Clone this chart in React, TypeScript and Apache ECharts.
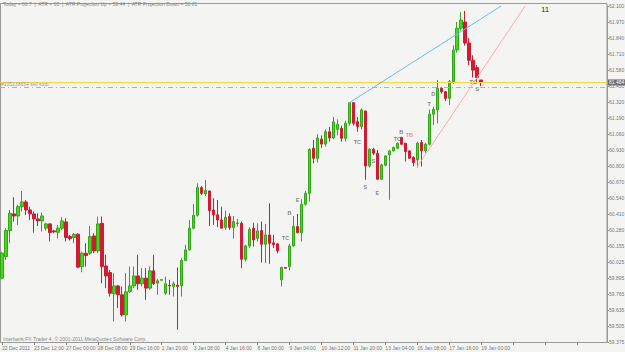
import React, { useEffect, useRef } from "react";
import * as echarts from "echarts";

const yTickLabels = ["59.375","59.505","59.635","59.765","59.895","60.025","60.155","60.280","60.410","60.540","60.670","60.800","60.930","61.060","61.190","61.320","61.450","61.580","61.710","61.840","61.970","62.100"];
const xTickLabels = ["22 Dec 2011","23 Dec 12:00","27 Dec 00:00","28 Dec 08:00","29 Dec 16:00","1 Jan 20:00","3 Jan 08:00","4 Jan 16:00","6 Jan 00:00","9 Jan 04:00","10 Jan 12:00","11 Jan 20:00","13 Jan 04:00","16 Jan 08:00","17 Jan 16:00","19 Jan 00:00"];

const opens = [59.893,60.068,60.279,60.414,60.397,60.473,60.511,60.446,60.414,60.373,60.357,60.298,60.333,60.276,60.265,60.298,60.349,60.230,60.222,60.249,
59.987,60.095,60.095,60.235,60.114,60.338,59.992,59.938,59.766,59.830,59.758,59.595,59.785,59.830,59.911,59.847,59.893,59.812,59.952,59.852,
59.876,59.771,59.836,59.825,59.836,59.830,60.036,60.122,60.298,60.403,60.627,60.576,60.600,60.446,60.406,60.365,60.303,60.392,60.303,60.336,
60.338,60.046,60.154,60.298,60.216,60.279,60.168,60.243,60.179,60.171,59.879,59.979,59.987,60.154,60.311,60.262,60.492,60.581,60.946,60.865,
61.020,60.980,61.080,61.030,61.100,61.108,61.027,61.149,61.316,61.162,61.122,61.249,60.803,60.938,60.906,60.695,60.809,60.892,60.925,60.946,
61.033,60.987,60.925,60.873,60.852,60.992,60.925,60.979,61.222,61.257,61.432,61.405,61.351,61.486,61.743,61.920,61.970,61.800,61.660,61.600,61.500];
const highs = [60.108,60.298,60.446,60.549,60.487,60.600,60.527,60.473,60.433,60.419,60.424,60.343,60.338,60.284,60.325,60.387,60.379,60.243,60.257,60.257,
60.108,60.176,60.316,60.257,60.392,60.392,60.082,59.960,59.933,59.838,59.825,59.933,59.987,59.987,60.082,59.974,59.974,59.987,60.082,59.884,
59.884,59.906,59.879,59.866,59.979,60.055,60.163,60.365,60.495,60.662,60.640,60.689,60.603,60.541,60.527,60.473,60.441,60.419,60.397,60.373,
60.352,60.163,60.306,60.343,60.338,60.352,60.333,60.500,60.243,60.176,59.987,59.982,60.171,60.397,60.414,60.532,60.600,60.946,61.013,61.060,
61.050,61.100,61.120,61.200,61.180,61.130,61.170,61.320,61.320,61.200,61.270,61.250,60.945,60.950,60.933,60.820,60.890,60.933,60.960,60.995,
61.040,60.990,60.930,60.880,61.000,61.014,60.990,61.260,61.284,61.500,61.440,61.410,61.500,61.780,61.970,62.050,62.060,61.840,61.700,61.620,61.500];
const lows = [59.884,60.041,60.176,60.352,60.325,60.433,60.406,60.365,60.262,60.316,60.271,60.279,60.190,60.257,60.216,60.284,60.190,60.198,60.176,59.974,
59.941,59.987,60.082,60.095,60.095,59.852,59.812,59.744,59.541,59.650,59.582,59.541,59.771,59.812,59.798,59.825,59.717,59.798,59.839,59.758,
59.874,59.758,59.758,59.744,59.474,59.744,60.033,60.117,60.289,60.392,60.568,60.559,60.316,60.325,60.306,60.298,60.284,60.284,60.216,60.311,
59.974,60.028,60.136,60.149,60.190,60.019,60.014,60.009,60.136,60.095,59.825,59.970,59.955,60.149,60.257,60.190,60.481,60.514,60.824,60.830,
60.950,60.960,61.000,61.020,61.050,61.000,61.000,61.130,61.130,61.080,61.100,60.690,60.790,60.890,60.690,60.690,60.800,60.528,60.920,60.940,
60.970,60.838,60.860,60.800,60.790,60.798,60.910,60.970,61.135,61.149,61.390,61.330,61.297,61.470,61.720,61.900,61.780,61.620,61.520,61.480,61.450];
const closes = [60.095,60.279,60.419,60.397,60.473,60.511,60.446,60.414,60.373,60.357,60.397,60.333,60.262,60.268,60.298,60.357,60.222,60.214,60.249,59.982,
60.095,60.076,60.230,60.114,60.333,59.987,59.911,59.771,59.830,59.758,59.595,59.782,59.830,59.911,59.847,59.893,59.812,59.952,59.847,59.871,
59.881,59.847,59.830,59.847,59.825,60.036,60.122,60.298,60.403,60.630,60.581,60.603,60.441,60.406,60.365,60.298,60.387,60.303,60.352,60.340,
60.046,60.154,60.289,60.203,60.276,60.168,60.243,60.176,60.165,60.114,59.979,59.974,60.154,60.311,60.262,60.492,60.581,60.937,60.865,61.030,
60.980,61.080,61.030,61.160,61.140,61.027,61.149,61.316,61.149,61.122,61.257,60.803,60.938,60.906,60.695,60.811,60.884,60.925,60.952,60.987,
60.979,60.919,60.865,60.830,60.987,60.925,60.979,61.222,61.262,61.432,61.405,61.351,61.486,61.743,61.920,61.986,61.800,61.660,61.580,61.520,61.484];

const bidPrice = 61.484;
const sellStopPrice = 61.437;
const blueLine = [[87, 61.316], [124.7, 62.1]];
const pinkLine = [[104.3, 60.797], [131, 62.1]];
const marks = [
  { idx: 71.25, price: 60.218, text: "TC", color: "#666" },
  { idx: 72.25, price: 60.421, text: "B", color: "#666" },
  { idx: 74.25, price: 60.527, text: "E", color: "#666" },
  { idx: 89.25, price: 60.997, text: "TC", color: "#666" },
  { idx: 93, price: 60.843, text: "S", color: "#666" },
  { idx: 91.25, price: 60.632, text: "S", color: "#666" },
  { idx: 94.25, price: 60.583, text: "E", color: "#666" },
  { idx: 99.25, price: 61.021, text: "TC", color: "#666" },
  { idx: 100, price: 61.075, text: "B", color: "#666" },
  { idx: 101.6, price: 61.05, text: "TB", color: "#f07080" },
  { idx: 107, price: 61.305, text: "T", color: "#666" },
  { idx: 108, price: 61.386, text: "D", color: "#666" },
  { idx: 118.25, price: 61.484, text: "TC", color: "#666" },
  { idx: 119, price: 61.427, text: "S", color: "#666" },
];

const SLOTS = 152;
const BARS_PER_LABEL = 8;
const FONT = "Liberation Sans, Arial, sans-serif";

export default function App() {
  const ref = useRef<HTMLDivElement>(null);
  useEffect(() => {
    document.body.style.margin = "0";
    if (!ref.current) return;
    const chart = echarts.init(ref.current, null, { renderer: "svg" });
    const cats = Array.from({ length: SLOTS }, (_, i) => String(i));
    const ohlc = opens.map((o, i) => [o, closes[i], lows[i], highs[i]]);
    chart.setOption({
      animation: false,
      backgroundColor: "#f4f5f2",
      textStyle: { fontFamily: FONT },
      grid: { left: 0, right: 18, top: 6, bottom: 10, containLabel: false, outerBoundsMode: "none" },
      xAxis: {
        type: "category",
        data: cats,
        boundaryGap: true,
        axisLine: { show: false },
        axisTick: { show: true, interval: BARS_PER_LABEL - 1, alignWithLabel: true, length: 3, lineStyle: { color: "#888" } },
        axisLabel: {
          interval: BARS_PER_LABEL - 1,
          formatter: (_v: string, i: number) => xTickLabels[i / BARS_PER_LABEL] ?? "",
          align: "left",
          fontSize: 5,
          color: "#777",
          margin: 3,
          showMinLabel: true,
          hideOverlap: false,
          fontFamily: FONT,
        },
        splitLine: { show: false },
      },
      yAxis: [
        { type: "value", min: 59.375, max: 62.1, show: false, splitLine: { show: false } },
        {
          type: "category",
          position: "right",
          data: yTickLabels,
          boundaryGap: false,
          axisLine: { show: true, lineStyle: { color: "#999" } },
          axisTick: { show: true, length: 2, interval: 0, lineStyle: { color: "#999" } },
          axisLabel: { interval: 0, fontSize: 5, color: "#777", margin: 2, fontFamily: FONT },
          splitLine: { show: false },
        },
      ],
      series: [
        {
          type: "candlestick",
          yAxisIndex: 0,
          data: ohlc,
          barWidth: 3,
          itemStyle: { color: "#44d81e", color0: "#d01a36", borderColor: "#33a816", borderColor0: "#d01a36", borderWidth: 1 },
          markLine: {
            silent: true,
            symbol: ["none", "none"],
            data: [
              {
                yAxis: bidPrice,
                lineStyle: { color: "#f5d742", type: "solid", width: 1 },
                label: { show: true, position: "end", formatter: bidPrice.toFixed(3), backgroundColor: "#6d6d6d", color: "#fff", fontSize: 5, padding: [1, 1, 0, 1], distance: 1, fontFamily: FONT },
              },
              {
                yAxis: sellStopPrice,
                lineStyle: { color: "#77dd66", type: [5, 3, 1, 3], width: 1 },
                label: { show: true, position: "insideStartTop", formatter: "#105238654 sell stop", color: "#999", fontSize: 5, distance: 1, fontFamily: FONT },
              },
              [
                { coord: blueLine[0], lineStyle: { color: "#66bbff", type: "solid", width: 1 }, label: { show: false } },
                { coord: blueLine[1] },
              ],
              [
                { coord: pinkLine[0], lineStyle: { color: "#ffaaaa", type: "solid", width: 1 }, label: { show: false } },
                { coord: pinkLine[1] },
              ],
            ],
          },
        },
        {
          type: "scatter",
          yAxisIndex: 0,
          symbolSize: 1,
          itemStyle: { color: "rgba(0,0,0,0)" },
          data: marks.map((m) => ({ value: [m.idx, m.price], name: m.text, label: { color: m.color } })),
          label: { show: true, position: "inside", formatter: (p: any) => p.name, fontSize: 5.5, fontWeight: "bold", fontFamily: FONT },
        },
      ],
      graphic: [
        { type: "rect", shape: { x: 0.5, y: 3.5, width: 606.5, height: 339 }, style: { fill: "none", stroke: "#999", lineWidth: 1 }, silent: true, z: -1 },
        { type: "text", left: 3, top: 1, style: { text: "Today = 66.7  |  ATR = 65  |  ATR Projection Up = 59.44  |  ATR Projection Down = 58.81", fontSize: 5, fill: "#888", fontFamily: FONT } },
        { type: "text", left: 541, top: 5, style: { text: "11", fontSize: 8, fill: "#333", fontFamily: FONT } },
        { type: "text", left: 3, top: 336, style: { text: "Interbank FX Trader 4, © 2001-2011 MetaQuotes Software Corp.", fontSize: 5, fill: "#888", fontFamily: FONT } },
      ],
    });
    return () => chart.dispose();
  }, []);
  return <div ref={ref} style={{ width: 625, height: 352 }} />;
}
